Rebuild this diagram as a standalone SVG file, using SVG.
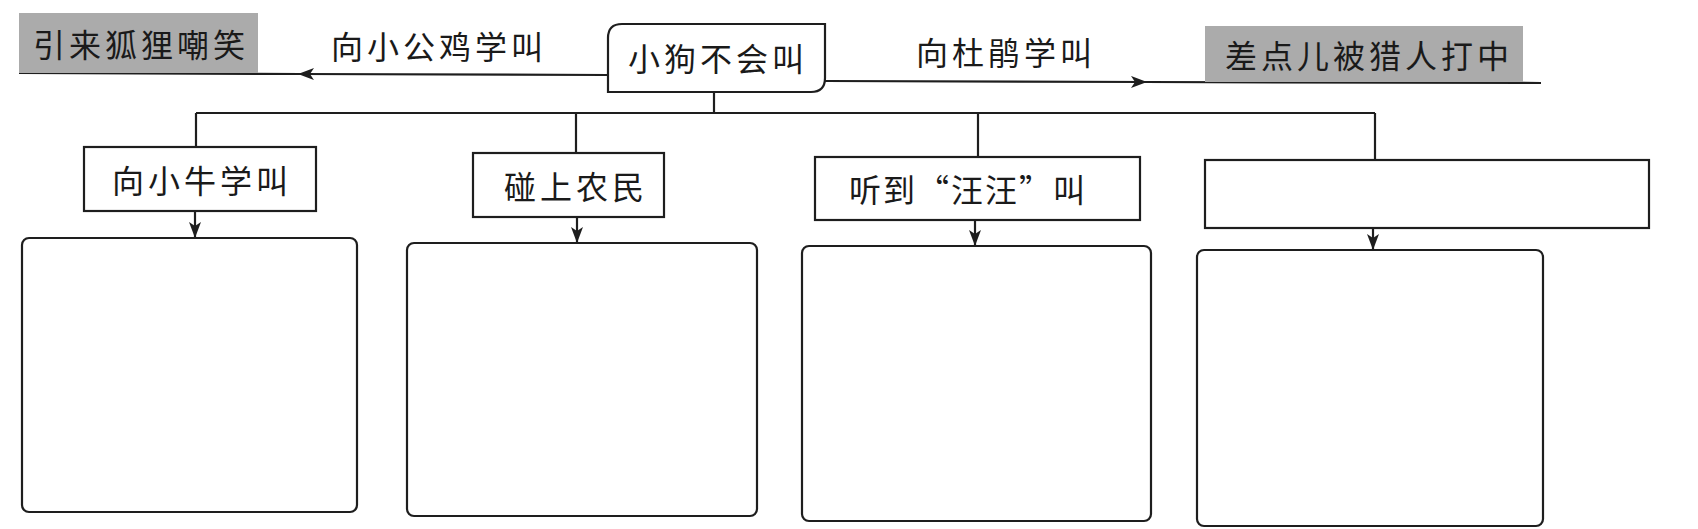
<svg xmlns="http://www.w3.org/2000/svg" width="1698" height="529" viewBox="0 0 1698 529">
<style>
.t{font-family:"Noto Sans CJK SC","Noto Sans CJK TC",sans-serif;font-size:32px;fill:#1a1a1a;text-anchor:middle;dominant-baseline:central;letter-spacing:4px}
.box{fill:#fff;stroke:#1e1e1e;stroke-width:2.2}
.gray{fill:#ababab;stroke:none}
.ln{fill:none;stroke:#1e1e1e;stroke-width:2.2}
</style>
<defs>
<marker id="arr" viewBox="0 0 16 12" refX="16" refY="6" markerWidth="16" markerHeight="12" markerUnits="userSpaceOnUse" orient="auto">
<path d="M0,0 L16,6 L0,12 L4,6 Z" fill="#1e1e1e"/>
</marker>
</defs>
<rect width="1698" height="529" fill="#fff"/>
<g id="connectors">
<path class="ln" d="M608,75 L298,74" marker-end="url(#arr)"/>
<path class="ln" d="M300,74 L19,73"/>
<path class="ln" d="M825,81 L1147,82" marker-end="url(#arr)"/>
<path class="ln" d="M1145,82 L1541,83"/>
<path class="ln" d="M714,92 L714,113 M196,113 L1375,113 M196,113 L196,147 M576,113 L576,153 M978,113 L978,157 M1375,113 L1375,160"/>
<path class="ln" d="M195,211 L195,238" marker-end="url(#arr)"/>
<path class="ln" d="M577,217 L577,243" marker-end="url(#arr)"/>
<path class="ln" d="M975,220 L975,246" marker-end="url(#arr)"/>
<path class="ln" d="M1373,228 L1373,250" marker-end="url(#arr)"/>
</g>
<g id="n-fox">
<rect class="gray" x="19" y="13" width="239" height="60"/>
<text class="t" x="141" y="43">引来狐狸嘲笑</text>
</g>
<g id="l-rooster">
<text class="t" x="439" y="45">向小公鸡学叫</text>
</g>
<g id="n-puppy">
<path class="box" d="M622,24 L825,24 L825,78 Q825,92 811,92 L608,92 L608,38 Q608,24 622,24 Z"/>
<text class="t" x="718" y="57">小狗不会叫</text>
</g>
<g id="l-cuckoo">
<text class="t" x="1006" y="51">向杜鹃学叫</text>
</g>
<g id="n-hunter">
<rect class="gray" x="1205" y="26" width="318" height="56"/>
<text class="t" x="1369" y="54">差点儿被猎人打中</text>
</g>
<g id="n-calf">
<rect class="box" x="84" y="147" width="232" height="64"/>
<text class="t" x="202" y="179">向小牛学叫</text>
</g>
<g id="n-farmer">
<rect class="box" x="473" y="153" width="191" height="64"/>
<text class="t" x="576" y="185">碰上农民</text>
</g>
<g id="n-wangwang">
<rect class="box" x="815" y="157" width="325" height="63"/>
<text class="t" x="968" y="188" style="letter-spacing:2px">听到“汪汪”叫</text>
</g>
<g id="n-blank">
<rect class="box" x="1205" y="160" width="444" height="68"/>
</g>
<g id="b1"><rect class="box" x="22" y="238" width="335" height="274" rx="7"/></g>
<g id="b2"><rect class="box" x="407" y="243" width="350" height="273" rx="7"/></g>
<g id="b3"><rect class="box" x="802" y="246" width="349" height="275" rx="7"/></g>
<g id="b4"><rect class="box" x="1197" y="250" width="346" height="276" rx="7"/></g>
</svg>
